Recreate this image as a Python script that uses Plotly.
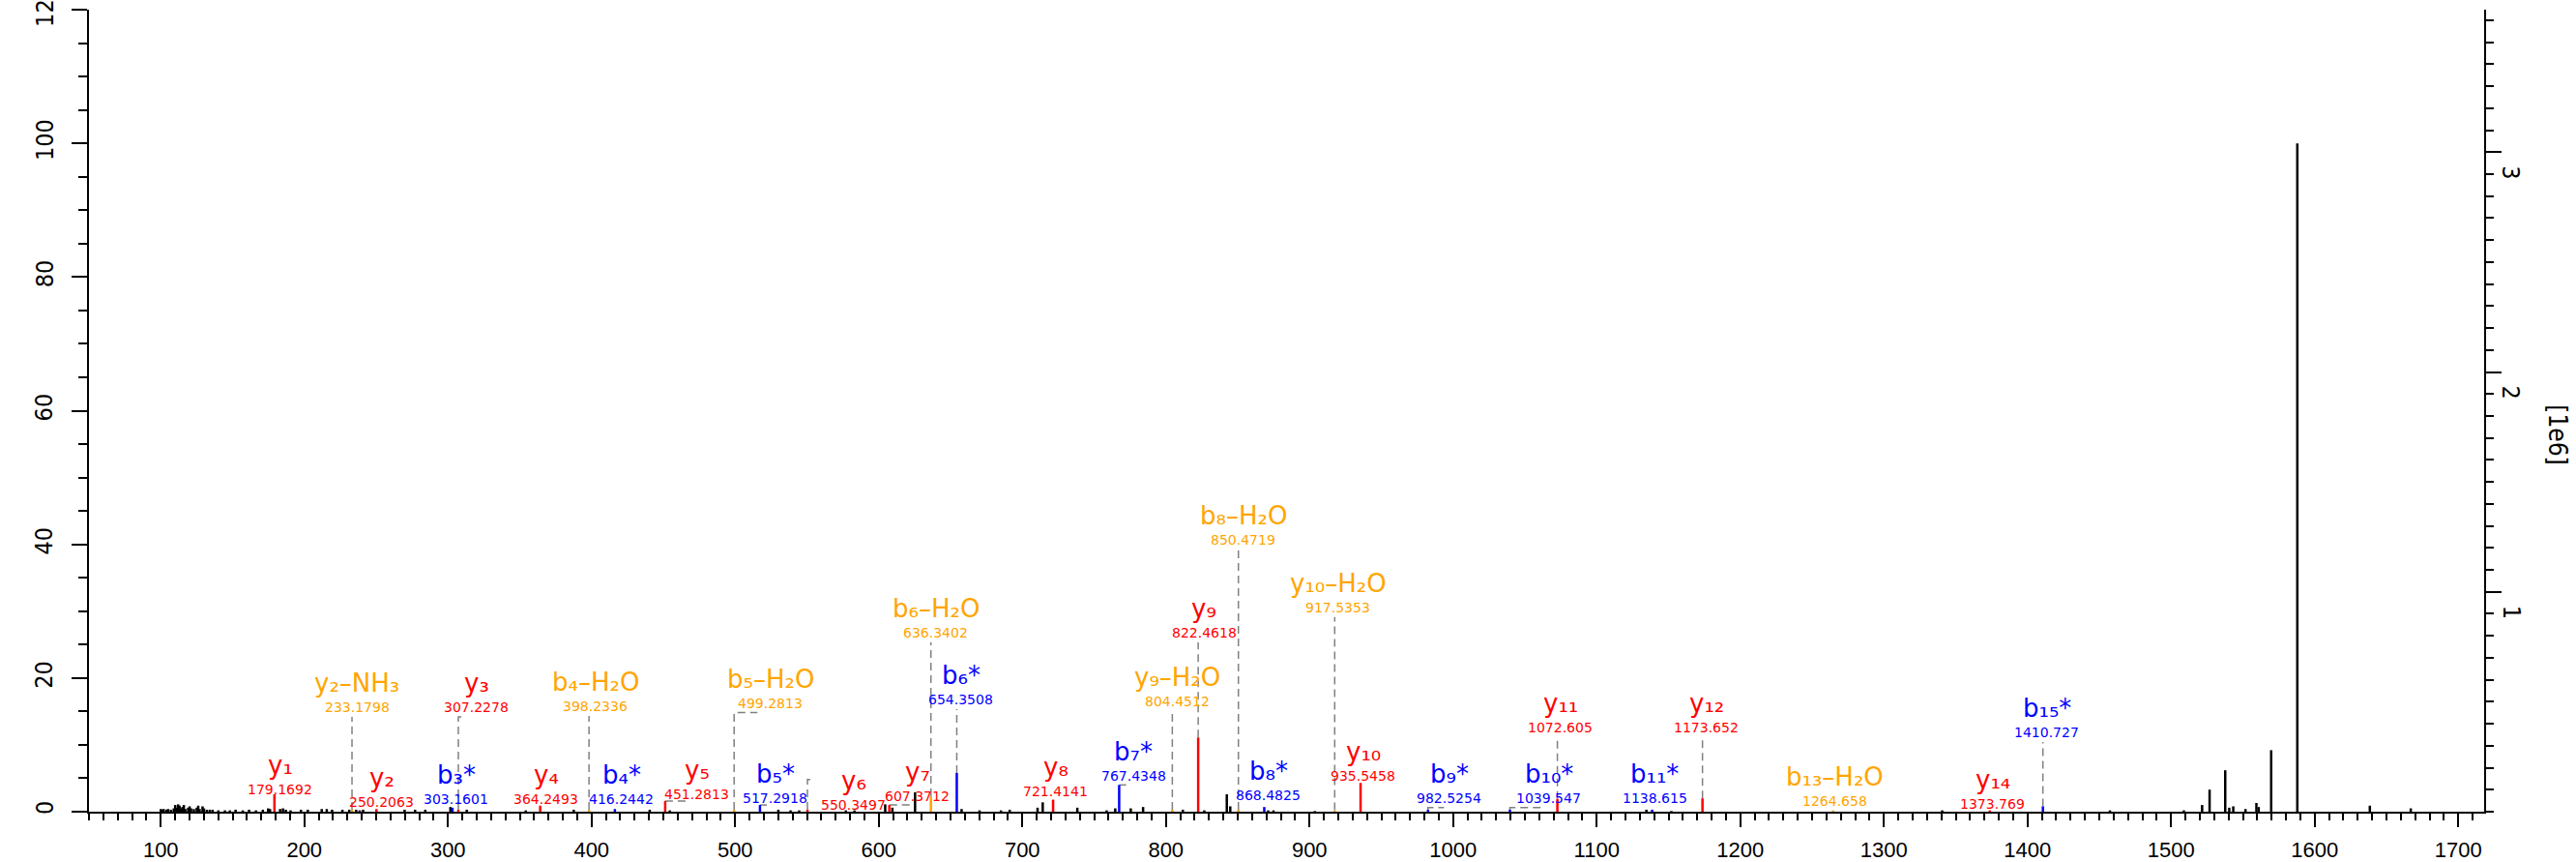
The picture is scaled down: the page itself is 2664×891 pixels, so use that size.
import plotly.graph_objects as go

# ---- spectrum data (m/z, relative intensity in %) ----
other_mz = [100.08, 101.07, 102.06, 104.05, 105.07, 107.05, 109.08, 110.07, 111.08, 112.09,
            113.07, 114.09, 115.09, 116.07, 117.08, 119.08, 120.08, 121.09, 123.07, 125.08,
            126.09, 127.08, 129.10, 130.09, 132.08, 134.1, 136.08, 140.1, 144.7, 148.1,
            152.1, 157.1, 161.5, 166.3, 171.1, 174.8, 176.1, 183.1, 185.1, 187.1,
            190.4, 197.6, 202.4, 212.1, 215.6, 219.3, 226.5, 231.3, 236.1, 238.5,
            240.9, 269.8, 277.1, 284.2, 301.7, 313.1, 354.2, 387.6, 440.5, 454.5,
            530.1, 538.6, 544.6, 577.1, 583.1, 604.5, 609.5, 625.3, 657.7, 670.2,
            685.1, 691.2, 710.6, 714.2, 738.3, 758.7, 764.7, 775.5, 784.1, 811.8,
            826.7, 842.4, 844.8, 871.2, 874.9, 903.7, 1134.6, 1152.0, 1340.6, 1457.4,
            1508.9, 1521.6, 1526.8, 1537.7, 1540.5, 1543.3, 1551.8, 1559.4, 1561.0, 1569.7,
            1587.9, 1638.4, 1666.9]
other_int = [0.4, 0.3, 0.4, 0.3, 0.4, 0.3, 0.5, 1.0, 0.6, 1.1,
             0.9, 0.5, 0.7, 1.0, 0.4, 0.6, 0.8, 0.5, 0.4, 0.6,
             0.9, 0.4, 0.8, 0.5, 0.3, 0.3, 0.3, 0.2, 0.2, 0.2,
             0.3, 0.2, 0.3, 0.2, 0.3, 0.5, 0.4, 0.4, 0.5, 0.3,
             0.2, 0.3, 0.3, 0.4, 0.4, 0.3, 0.3, 0.3, 0.3, 0.2,
             0.3, 0.3, 0.3, 0.3, 0.7, 0.3, 0.2, 0.3, 0.3, 0.2,
             0.3, 0.2, 0.2, 0.2, 0.2, 1.1, 0.6, 2.9, 0.4, 0.2,
             0.2, 0.3, 0.6, 1.4, 0.6, 0.2, 0.5, 0.5, 0.7, 0.3,
             0.2, 2.6, 0.8, 0.2, 0.2, 0.1, 0.3, 0.1, 0.2, 0.2,
             0.2, 1.0, 3.3, 6.2, 0.6, 0.8, 0.4, 1.3, 0.7, 9.2,
             100.0, 0.9, 0.5]

y_names = ['y1', 'y2', 'y3', 'y4', 'y5', 'y6', 'y7', 'y8', 'y9', 'y10', 'y11', 'y12', 'y14']
y_mz = [179.1692, 250.2063, 307.2278, 364.2493, 451.2813, 550.3497, 607.3712, 721.4141,
        822.4618, 935.5458, 1072.605, 1173.652, 1373.769]
y_int = [2.6, 0.4, 0.3, 0.9, 1.6, 0.3, 1.0, 1.8, 11.1, 4.3, 1.9, 2.0, 0.2]

b_names = ['b3*', 'b4*', 'b5*', 'b6*', 'b7*', 'b8*', 'b9*', 'b10*', 'b11*', 'b15*']
b_mz = [303.1601, 416.2442, 517.2918, 654.3508, 767.4348, 868.4825, 982.5254, 1039.547,
        1138.615, 1410.727]
b_int = [0.6, 0.4, 1.0, 5.8, 4.0, 0.7, 0.3, 0.3, 0.3, 0.8]

loss_names = ['y2-NH3', 'b4-H2O', 'b5-H2O', 'b6-H2O', 'y9-H2O', 'b8-H2O', 'y10-H2O', 'b13-H2O']
loss_mz = [233.1798, 398.2336, 499.2813, 636.3402, 804.4512, 850.4719, 917.5353, 1264.658]
loss_int = [0.3, 0.3, 0.3, 2.3, 0.3, 0.3, 0.2, 0.2]

base_peak_abs = 3.04  # [1e6] counts of the 100 % peak

x_ticks = list(range(100, 1800, 100))
rel_ticks = [0, 20, 40, 60, 80, 100, 120]
abs_ticks = [1, 2, 3]

# label placement: name -> (label x [m/z], label y [%], elbow (end x, y) or None)
label_pos = {
    'y1': (183.2, 6.95, None), 'y2': (253.9, 5.1, None), 'y3': (319.9, 19.25, (312.4, None)),
    'y4': (368.2, 5.5, None), 'y5': (473.4, 6.2, (465.9, None)), 'y6': (582.5, 4.6, (554.5, 4.8)),
    'y7': (627.0, 5.9, (622.9, None)), 'y8': (723.2, 6.7, None), 'y9': (826.6, 30.4, None),
    'y10': (937.4, 9.0, None), 'y11': (1074.7, 16.2, None), 'y12': (1176.4, 16.2, None),
    'y14': (1375.6, 4.8, None),
    'b3*': (305.7, 5.5, None), 'b4*': (420.8, 5.5, None), 'b5*': (528.0, 5.7, (522.1, None)),
    'b6*': (657.2, 20.4, None), 'b7*': (777.6, 9.0, (772.3, None)), 'b8*': (871.3, 6.1, None),
    'b9*': (997.3, 5.7, (993.7, None)), 'b10*': (1066.5, 5.7, (1062.9, None)),
    'b11*': (1140.5, 5.7, None), 'b15*': (1413.5, 15.5, None),
    'y2-NH3': (236.8, 19.25, None), 'b4-H2O': (402.7, 19.4, None),
    'b5-H2O': (524.6, 19.9, (515.5, None)), 'b6-H2O': (639.7, 30.4, None),
    'y9-H2O': (807.7, 20.1, None), 'b8-H2O': (853.7, 44.3, None),
    'y10-H2O': (919.9, 34.2, None), 'b13-H2O': (1266.0, 5.2, None),
}

RED, BLUE, ORANGE = '#ff0000', '#0000ff', '#ffa500'
NARROW = 'Liberation Sans Narrow, Arial Narrow, DejaVu Sans Condensed, sans-serif'
LABEL_FONT = 'DejaVu Sans, Verdana, sans-serif'
CONN_DROP = 5.07  # % between label centre and top of connector
SUB = str.maketrans('0123456789', '₀₁₂₃₄₅₆₇₈₉')


def sticks(mz, inten):
    xs, ys = [], []
    for m, i in zip(mz, inten):
        xs += [m, m, None]
        ys += [0, i, None]
    return xs, ys


def fmt_name(name):
    return name.translate(SUB).replace('-', '–')


groups = [(y_names, y_mz, y_int, RED), (b_names, b_mz, b_int, BLUE),
          (loss_names, loss_mz, loss_int, ORANGE)]

fig = go.Figure()

# dashed connectors from label to peak
cx, cy = [], []
for names, mzs, ints, col in groups:
    for n, m, i in zip(names, mzs, ints):
        lx, ly, elbow = label_pos[n]
        top = ly - CONN_DROP
        if elbow:
            end, ey = elbow
            if ey is None:
                ey = max(top, i)
            cx += [m, m, end, None]
            cy += [i, ey, ey, None]
        elif top - i > 0.4:
            cx += [m, m, None]
            cy += [i, top, None]
fig.add_trace(go.Scatter(x=cx, y=cy, mode='lines', hoverinfo='skip',
                         line=dict(color='#808080', width=1.5, dash='8px,5px')))

xs, ys = sticks(other_mz, other_int)
fig.add_trace(go.Scatter(x=xs, y=ys, mode='lines', line=dict(color='black', width=2.5)))
for names, mzs, ints, col in groups:
    xs, ys = sticks(mzs, ints)
    fig.add_trace(go.Scatter(x=xs, y=ys, mode='lines', line=dict(color=col, width=2.5)))

# absolute intensity axis
fig.add_trace(go.Scatter(x=other_mz, y=[v * base_peak_abs / 100 for v in other_int],
                         yaxis='y2', mode='markers', marker=dict(opacity=0), hoverinfo='skip'))

annotations = []
for names, mzs, ints, col in groups:
    for n, m in zip(names, mzs):
        lx, ly, _ = label_pos[n]
        annotations.append(dict(x=lx, y=ly, text=fmt_name(n), showarrow=False,
                                xanchor='center', yanchor='middle',
                                font=dict(family=LABEL_FONT, size=26, color=col)))
        annotations.append(dict(x=lx, y=ly, yshift=-25, text='%.7g' % m, showarrow=False,
                                xanchor='center', yanchor='middle',
                                font=dict(family=LABEL_FONT, size=14, color=col)))

# rotated tick labels of both intensity axes
tick_font = dict(family=NARROW, size=25, color='black')
for v in rel_ticks:
    annotations.append(dict(x=-0.0186, y=v, xref='paper', yref='y', yshift=4, text=str(v),
                            xanchor='center', yanchor='middle',
                            showarrow=False, textangle=-90, font=tick_font))
for v in abs_ticks:
    annotations.append(dict(x=1.0113, y=v, xref='paper', yref='y2', yshift=-21, text=str(v),
                            xanchor='center', yanchor='middle',
                            showarrow=False, textangle=90, font=tick_font))
annotations.append(dict(x=1.0307, y=0.47, xref='paper', yref='paper', text='[1e6]',
                        xanchor='center', yanchor='middle', showarrow=False, textangle=90,
                        font=dict(family=NARROW, size=26, color='black')))

axis_common = dict(showline=True, linecolor='black', linewidth=2, showgrid=False,
                   zeroline=False, ticks='outside', tickcolor='black', tickwidth=1.5,
                   automargin=False)

fig.update_layout(
    width=2664, height=891,
    margin=dict(l=92, r=95, t=10, b=52),
    plot_bgcolor='white', paper_bgcolor='white',
    showlegend=False,
    annotations=annotations,
    xaxis=dict(range=[50, 1718], tickvals=x_ticks, ticklen=14, ticklabelstandoff=5,
               tickfont=dict(family='Liberation Sans, Arial, sans-serif', size=22, color='black'),
               minor=dict(dtick=10, tick0=0, ticks='outside', ticklen=7,
                          tickcolor='black', tickwidth=1.5),
               **axis_common),
    yaxis=dict(range=[0, 120], tickvals=rel_ticks, ticklen=16, showticklabels=False,
               minor=dict(dtick=5, tick0=0, ticks='outside', ticklen=9,
                          tickcolor='black', tickwidth=1.5),
               **axis_common),
    yaxis2=dict(overlaying='y', side='right', range=[0, 1.2 * base_peak_abs],
                tickvals=abs_ticks, ticklen=16, showticklabels=False,
                minor=dict(dtick=0.1, tick0=0, ticks='outside', ticklen=8,
                           tickcolor='black', tickwidth=1.5),
                **axis_common),
)

fig.write_html("out.html", config={'displayModeBar': False},
               post_script="document.body.style.margin='0px';document.body.style.overflow='hidden';")
